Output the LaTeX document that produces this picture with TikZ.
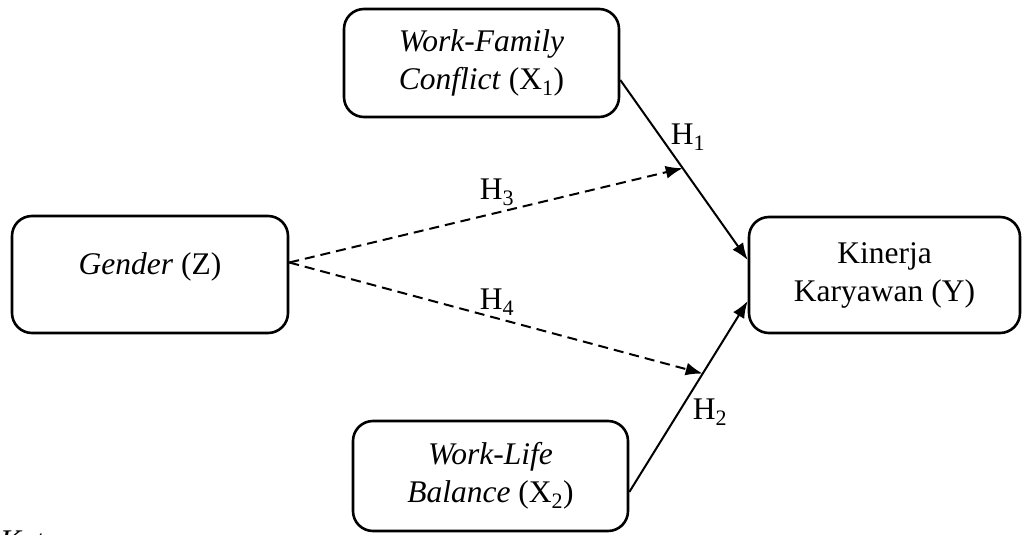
\documentclass[tikz,border=0pt]{standalone}
\usepackage{fontspec}
\setmainfont{Liberation Serif}
\usetikzlibrary{arrows.meta,calc}
\begin{document}
\begin{tikzpicture}[x=1pt,y=-1pt,
  box/.style={draw,line width=2.6pt,rounded corners=20pt,inner sep=0pt,align=center,
    font=\fontsize{31.5}{38}\selectfont},
  conn/.style={line width=2pt,-{Latex[length=17pt,width=13pt]}},
  dconn/.style={conn,dash pattern=on 10pt off 6pt},
  lbl/.style={font=\fontsize{31.5}{38}\selectfont,inner sep=0pt}]
\useasboundingbox (0,0) rectangle (1022,535);
\node[box,minimum width=275pt,minimum height=108pt] (wfc) at (481.5,63) {\textit{Work-Family}\\\textit{Conflict} (X\textsubscript{1})};
\node[box,minimum width=276pt,minimum height=117pt] (gen) at (150,274.5) {};
\node[lbl] (gent) at ($(gen.center)+(0,-8)$) {\textit{Gender} (Z)};
\node[box,minimum width=271pt,minimum height=116pt] (kin) at (884.5,275) {Kinerja\\Karyawan (Y)};
\node[box,minimum width=275pt,minimum height=110pt] (wlb) at (490.5,476) {\textit{Work-Life}\\\textit{Balance} (X\textsubscript{2})};
\coordinate (h1s) at ($(wfc.east)+(0,17)$);
\coordinate (h1e) at ($(kin.west)+(0,-15)$);
\coordinate (h2s) at ($(wlb.east)+(0,16)$);
\coordinate (h2e) at ($(kin.west)+(0,26)$);
\coordinate (gs) at ($(gen.east)+(0,-12)$);
\draw[conn] (h1s) -- (h1e);
\draw[conn] (h2s) -- (h2e);
\draw[dconn] (gs) -- ($(h1s)!0.49!(h1e)$);
\draw[dconn] (gs) -- ($(h2s)!0.62!(h2e)$);
\node[lbl] (l1) at (688,137) {H\textsubscript{1}};
\node[lbl] (l3) at (497,192) {H\textsubscript{3}};
\node[lbl] (l4) at (497,302) {H\textsubscript{4}};
\node[lbl] (l2) at (710,412) {H\textsubscript{2}};
\node[lbl,anchor=base west] (ket) at (0,551) {\textit{Keterangan:}};
\end{tikzpicture}
\end{document}
